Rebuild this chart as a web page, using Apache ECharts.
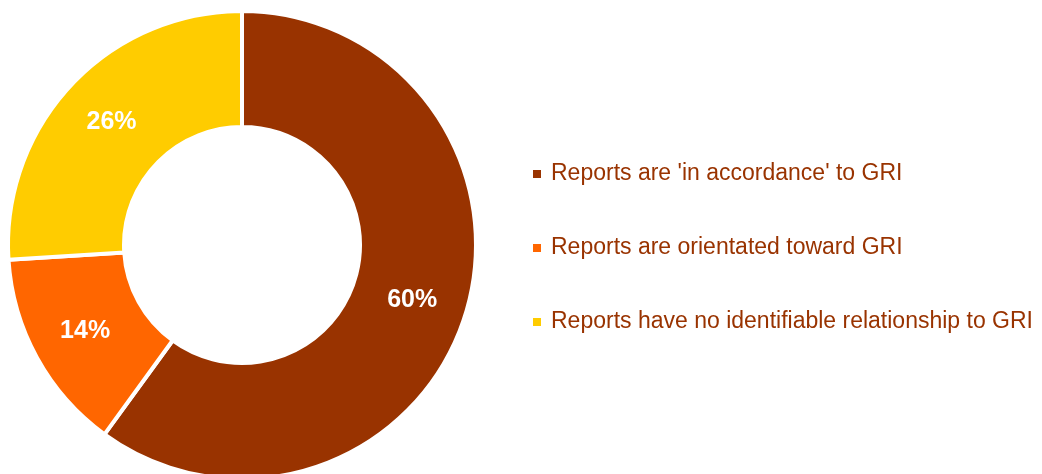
<!DOCTYPE html>
<html><head><meta charset="utf-8">
<script src="https://cdn.jsdelivr.net/npm/echarts@6/dist/echarts.min.js"></script>
<style>html,body{margin:0;padding:0;background:#fff}#c{width:1042px;height:474px}</style>
</head><body><div id="c"></div>
<script>
const categories = ["Reports are 'in accordance' to GRI", "Reports are orientated toward GRI", "Reports have no identifiable relationship to GRI"];
const values = [60, 14, 26];
const colors = ["#993300", "#FF6600", "#FFCC00"];

const chart = echarts.init(document.getElementById('c'));
chart.setOption({
  animation: false,
  color: colors,
  legend: {
    orient: 'vertical',
    left: 526,
    top: 157,
    icon: 'rect',
    itemWidth: 10,
    itemHeight: 10,
    itemGap: 50,
    data: categories,
    textStyle: {color: '#993300', fontSize: 23, fontFamily: 'Liberation Sans, Arial, sans-serif', lineHeight: 24, padding: [0,0,0,4]}
  },
  series: [{
    type: 'pie',
    center: [242, 245],
    radius: [118, 234],
    startAngle: 90,
    clockwise: true,
    itemStyle: {borderColor: '#fff', borderWidth: 4},
    label: {
      position: 'inside',
      formatter: '{d}%',
      color: '#fff',
      fontSize: 25,
      fontWeight: 'bold',
      fontFamily: 'Liberation Sans, Arial, sans-serif'
    },
    labelLine: {show: false},
    data: categories.map((n, i) => ({name: n, value: values[i]}))
  }]
});
</script></body></html>
